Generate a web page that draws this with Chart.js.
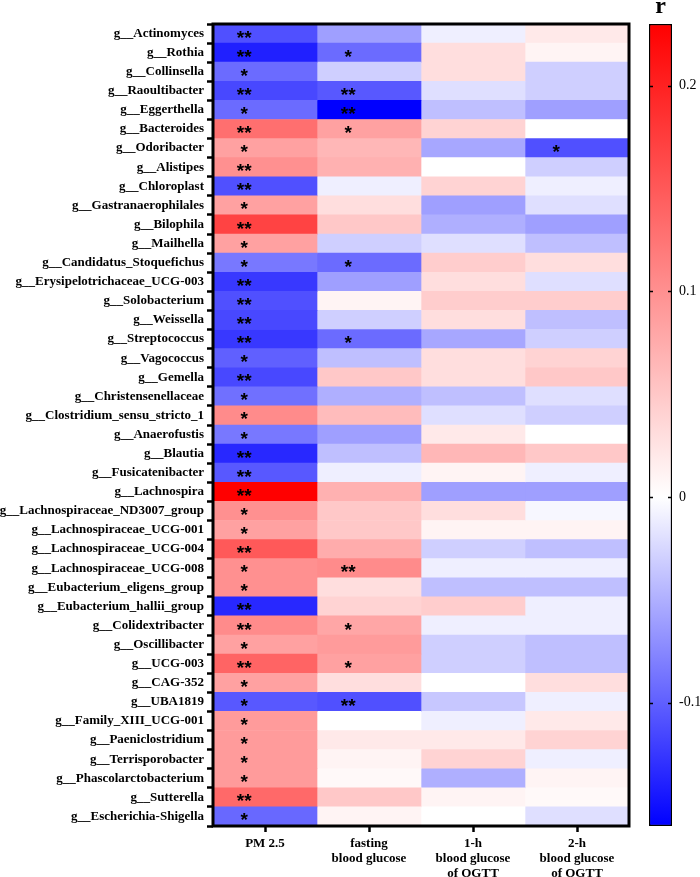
<!DOCTYPE html>
<html>
<head>
<meta charset="utf-8">
<script src="https://cdn.jsdelivr.net/npm/chart.js@4.4.0/dist/chart.umd.min.js"></script>
<style>
  html, body { margin: 0; padding: 0; background: #fff; }
  #wrap { position: relative; width: 700px; height: 877px; }
  #heat { position: absolute; left: 0; top: 0; }
  #bar { position: absolute; left: 640px; top: 0; }
</style>
</head>
<body>
<div id="wrap">
  <canvas id="heat" width="700" height="877"></canvas>
  <canvas id="bar" width="60" height="877"></canvas>
</div>
<script>
// Rows (genera) and columns (clinical variables)
const genera = [
  'g__Actinomyces', 'g__Rothia', 'g__Collinsella', 'g__Raoultibacter', 'g__Eggerthella',
  'g__Bacteroides', 'g__Odoribacter', 'g__Alistipes', 'g__Chloroplast', 'g__Gastranaerophilales',
  'g__Bilophila', 'g__Mailhella', 'g__Candidatus_Stoquefichus', 'g__Erysipelotrichaceae_UCG-003', 'g__Solobacterium',
  'g__Weissella', 'g__Streptococcus', 'g__Vagococcus', 'g__Gemella', 'g__Christensenellaceae',
  'g__Clostridium_sensu_stricto_1', 'g__Anaerofustis', 'g__Blautia', 'g__Fusicatenibacter', 'g__Lachnospira',
  'g__Lachnospiraceae_ND3007_group', 'g__Lachnospiraceae_UCG-001', 'g__Lachnospiraceae_UCG-004', 'g__Lachnospiraceae_UCG-008', 'g__Eubacterium_eligens_group',
  'g__Eubacterium_hallii_group', 'g__Colidextribacter', 'g__Oscillibacter', 'g__UCG-003', 'g__CAG-352',
  'g__UBA1819', 'g__Family_XIII_UCG-001', 'g__Paeniclostridium', 'g__Terrisporobacter', 'g__Phascolarctobacterium',
  'g__Sutterella', 'g__Escherichia-Shigella'
];
const columns = [
  ['PM 2.5'],
  ['fasting', 'blood glucose'],
  ['1-h', 'blood glucose', 'of OGTT'],
  ['2-h', 'blood glucose', 'of OGTT']
];

// correlation r per column
const pm25 = [-0.11, -0.14, -0.093, -0.115, -0.093, 0.13, 0.085, 0.10, -0.11, 0.085,
  0.17, 0.085, -0.085, -0.125, -0.11, -0.115, -0.125, -0.10, -0.115, -0.09,
  0.105, -0.085, -0.135, -0.105, 0.23, 0.10, 0.085, 0.15, 0.10, 0.10,
  -0.135, 0.105, 0.085, 0.14, 0.085, -0.105, 0.09, 0.09, 0.09, 0.09,
  0.135, -0.095];
const fastingGlucose = [-0.06, -0.093, -0.03, -0.105, -0.16, 0.085, 0.065, 0.07, -0.01, 0.03,
  0.05, -0.03, -0.093, -0.06, 0.01, -0.03, -0.093, -0.04, 0.05, -0.05,
  0.06, -0.06, -0.04, -0.01, 0.07, 0.05, 0.05, 0.075, 0.105, 0.03,
  0.04, 0.08, 0.09, 0.085, 0.03, -0.11, 0.0, 0.02, 0.01, 0.005,
  0.05, 0.01];
const ogtt1h = [-0.01, 0.03, 0.03, -0.02, -0.04, 0.04, -0.055, 0.0, 0.04, -0.06,
  -0.05, -0.02, 0.045, 0.03, 0.045, 0.03, -0.055, 0.03, 0.03, -0.04,
  -0.02, 0.02, 0.065, 0.01, -0.06, 0.03, 0.01, -0.03, -0.01, -0.04,
  0.045, -0.01, -0.03, -0.03, 0.0, -0.035, -0.01, 0.02, 0.04, -0.05,
  0.01, 0.0];
const ogtt2h = [0.02, 0.01, -0.03, -0.03, -0.06, 0.0, -0.11, -0.03, -0.01, -0.02,
  -0.06, -0.04, 0.03, -0.02, 0.045, -0.04, -0.03, 0.04, 0.05, -0.02,
  -0.03, 0.0, 0.05, -0.01, -0.06, -0.005, 0.01, -0.04, -0.01, -0.04,
  -0.01, -0.01, -0.04, -0.04, 0.03, -0.01, 0.02, 0.04, -0.01, 0.01,
  0.005, -0.02];

// significance marks
const pm25Sig = ['**', '**', '*', '**', '*', '**', '*', '**', '**', '*',
  '**', '*', '*', '**', '**', '**', '**', '*', '**', '*',
  '*', '*', '**', '**', '**', '*', '*', '**', '*', '*',
  '**', '**', '*', '**', '*', '*', '*', '*', '*', '*',
  '**', '*'];
const fastingSig = ['', '*', '', '**', '**', '*', '', '', '', '',
  '', '', '*', '', '', '', '*', '', '', '',
  '', '', '', '', '', '', '', '', '**', '',
  '', '*', '', '*', '', '**', '', '', '', '',
  '', ''];
const ogtt1hSig = ['', '', '', '', '', '', '', '', '', '',
  '', '', '', '', '', '', '', '', '', '',
  '', '', '', '', '', '', '', '', '', '',
  '', '', '', '', '', '', '', '', '', '',
  '', ''];
const ogtt2hSig = ['', '', '', '', '', '', '*', '', '', '',
  '', '', '', '', '', '', '', '', '', '',
  '', '', '', '', '', '', '', '', '', '',
  '', '', '', '', '', '', '', '', '', '',
  '', ''];

// colour bar range and ticks
const cMin = -0.16, cMax = 0.23;
const colorTicks = [-0.1, 0, 0.1, 0.2];

const SERIF = '"Liberation Serif", "Times New Roman", serif';

function colorFor(v) {
  if (v >= 0) {
    const c = Math.round(255 * (1 - Math.min(v / cMax, 1)));
    return `rgb(255,${c},${c})`;
  }
  const c = Math.round(255 * (1 - Math.min(v / cMin, 1)));
  return `rgb(${c},${c},255)`;
}

const series = [pm25, fastingGlucose, ogtt1h, ogtt2h];
const sigs = [pm25Sig, fastingSig, ogtt1hSig, ogtt2hSig];

// stars + frame drawn on top of the cells
const starPlugin = {
  id: 'stars',
  afterDatasetsDraw(chart) {
    const { ctx, scales: { x, y }, chartArea: a } = chart;
    ctx.save();
    ctx.fillStyle = '#000';
    ctx.font = 'bold 19px "Liberation Sans", Arial, sans-serif';
    ctx.textAlign = 'center';
    ctx.textBaseline = 'alphabetic';
    sigs.forEach((col, j) => col.forEach((s, i) => {
      if (!s) return;
      ctx.fillText(s, x.getPixelForValue(j + 0.3), y.getPixelForValue(i) + 10);
    }));
    ctx.lineWidth = 3;
    ctx.strokeStyle = '#000';
    ctx.strokeRect(a.left, a.top, a.right - a.left, a.bottom - a.top);
    ctx.restore();
  }
};

new Chart(document.getElementById('heat'), {
  type: 'bar',
  data: {
    labels: genera,
    datasets: series.map((vals, j) => ({
      label: columns[j].join(' '),
      data: vals.map(() => [j, j + 1]),
      backgroundColor: vals.map(colorFor),
      borderWidth: 0,
      barPercentage: 1,
      categoryPercentage: 1,
      grouped: false
    }))
  },
  options: {
    indexAxis: 'y',
    responsive: false,
    animation: false,
    layout: { padding: { left: 0, right: 71, top: 24, bottom: 0 } },
    plugins: { legend: { display: false }, tooltip: { enabled: false } },
    scales: {
      x: {
        type: 'linear', min: 0, max: 4,
        afterBuildTicks: s => { s.ticks = [0.5, 1.5, 2.5, 3.5].map(v => ({ value: v })); },
        afterFit: s => { s.height = 51; },
        ticks: {
          callback: (v, i) => columns[i],
          font: { family: SERIF, size: 13, weight: 'bold', lineHeight: 1.15 },
          color: '#000', padding: 4, maxRotation: 0, autoSkip: false
        },
        grid: { drawOnChartArea: false, tickLength: 6, tickWidth: 2.5, tickColor: '#000' },
        border: { display: false }
      },
      y: {
        afterFit: s => { s.width = 213; },
        ticks: {
          font: { family: SERIF, size: 13, weight: 'bold' },
          color: '#000', padding: 3, autoSkip: false
        },
        grid: { drawOnChartArea: false, tickLength: 6, tickWidth: 2.5, tickColor: '#000' },
        border: { display: false }
      }
    }
  },
  plugins: [starPlugin]
});

// colour bar: title "r" and inner tick marks
const barDecor = {
  id: 'barDecor',
  afterDatasetsDraw(chart) {
    const { ctx, chartArea: a, scales: { y } } = chart;
    ctx.save();
    ctx.strokeStyle = '#000';
    ctx.lineWidth = 1.5;
    colorTicks.forEach(v => {
      const py = Math.round(y.getPixelForValue(v)) + 0.5;
      ctx.beginPath();
      ctx.moveTo(a.left, py); ctx.lineTo(a.left + 4, py);
      ctx.moveTo(a.right - 4, py); ctx.lineTo(a.right, py);
      ctx.stroke();
    });
    ctx.fillStyle = '#000';
    ctx.font = 'bold 24px ' + SERIF;
    ctx.textAlign = 'center';
    ctx.textBaseline = 'alphabetic';
    ctx.fillText('r', (a.left + a.right) / 2, 13);
    ctx.restore();
  }
};

new Chart(document.getElementById('bar'), {
  type: 'bar',
  data: {
    labels: ['r'],
    datasets: [{
      data: [[cMin, cMax]],
      backgroundColor: c => {
        const chart = c.chart;
        if (!chart.chartArea) return '#fff';
        const y = chart.scales.y;
        const g = chart.ctx.createLinearGradient(0, y.getPixelForValue(cMin), 0, y.getPixelForValue(cMax));
        g.addColorStop(0, colorFor(cMin));
        g.addColorStop((0 - cMin) / (cMax - cMin), '#ffffff');
        g.addColorStop(1, colorFor(cMax));
        return g;
      },
      borderColor: '#000',
      borderWidth: 1.5,
      borderSkipped: false,
      barPercentage: 1,
      categoryPercentage: 1
    }]
  },
  options: {
    responsive: false,
    animation: false,
    layout: { padding: { left: 9, top: 24, right: 0, bottom: 51 } },
    plugins: { legend: { display: false }, tooltip: { enabled: false } },
    scales: {
      x: { display: false },
      y: {
        position: 'right', min: cMin, max: cMax,
        afterBuildTicks: s => { s.ticks = colorTicks.map(v => ({ value: v })); },
        afterFit: s => { s.width = 28; },
        ticks: {
          callback: v => String(Math.round(v * 10) / 10),
          font: { family: SERIF, size: 14 },
          color: '#000', padding: 7
        },
        grid: { display: true, drawOnChartArea: false, drawTicks: false },
        border: { display: false }
      }
    }
  },
  plugins: [barDecor]
});
</script>
</body>
</html>
